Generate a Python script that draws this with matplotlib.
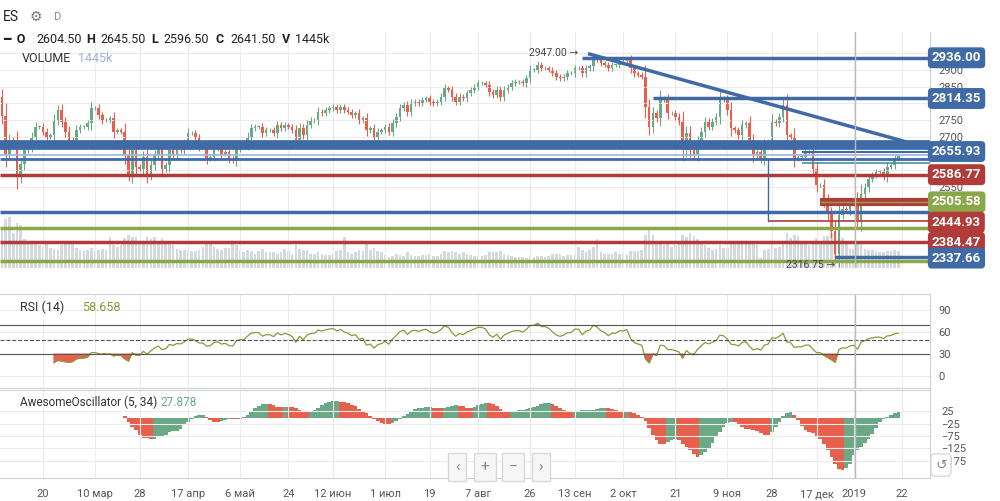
import numpy as np
import pandas as pd
import matplotlib
matplotlib.use('Agg')
from matplotlib import pyplot as plt

plt.rcParams['font.family'] = ['Roboto', 'DejaVu Sans']

# daily closes, ES futures, Feb 2018 - Jan 2019
feb = [2762, 2650, 2690, 2680, 2580, 2620, 2660, 2670, 2700, 2730, 2730, 2715, 2700, 2705, 2750, 2780, 2745, 2715]
mar = [2680, 2690, 2720, 2730, 2730, 2740, 2785, 2785, 2765, 2750, 2750, 2755, 2715, 2720, 2715, 2645, 2590, 2660, 2610, 2605, 2640]
apr = [2585, 2615, 2645, 2665, 2605, 2615, 2660, 2645, 2665, 2660, 2680, 2710, 2710, 2695, 2670, 2670, 2635, 2640, 2665, 2670, 2650]
may = [2655, 2635, 2630, 2665, 2675, 2675, 2700, 2725, 2730, 2730, 2710, 2720, 2720, 2710, 2735, 2725, 2735, 2730, 2720, 2690, 2725, 2705]
jun = [2735, 2748, 2750, 2775, 2770, 2780, 2785, 2790, 2780, 2790, 2780, 2775, 2765, 2770, 2750, 2755, 2720, 2725, 2700, 2715, 2720]
jul = [2730, 2715, 2740, 2760, 2785, 2795, 2775, 2800, 2805, 2800, 2810, 2815, 2805, 2800, 2805, 2820, 2845, 2840, 2820, 2805, 2820]
aug = [2815, 2830, 2840, 2850, 2860, 2860, 2855, 2835, 2825, 2840, 2820, 2840, 2850, 2860, 2865, 2865, 2860, 2875, 2900, 2900, 2915, 2905, 2905]
sep = [2900, 2890, 2880, 2875, 2880, 2890, 2890, 2905, 2905, 2890, 2905, 2910, 2935, 2930, 2920, 2915, 2905, 2915, 2915]
octo = [2925, 2925, 2930, 2905, 2890, 2885, 2880, 2790, 2730, 2770, 2755, 2815, 2810, 2770, 2770, 2760, 2745, 2660, 2710, 2660, 2645, 2685, 2715]
nov = [2745, 2730, 2745, 2760, 2815, 2810, 2780, 2725, 2720, 2705, 2735, 2740, 2690, 2645, 2655, 2635, 2675, 2685, 2745, 2740, 2760]
dec = [2795, 2705, 2700, 2635, 2640, 2640, 2655, 2655, 2605, 2555, 2555, 2510, 2470, 2420, 2350, 2465, 2485, 2480, 2505]
jan = [2510, 2450, 2530, 2550, 2575, 2585, 2595, 2595, 2580, 2610, 2615, 2635, 2641.5]
closes = np.array(feb + mar + apr + may + jun + jul + aug + sep + octo + nov + dec + jan, dtype=float)

# volume, thousands
vol_k = np.array(
    [3200, 4100, 4300, 2900, 3800, 3600, 2400, 2100, 2300, 2000, 1900, 1800, 2000, 1700, 1600, 1500, 1900, 2200] +
    [2300, 2100, 1700, 1500, 1400, 1500, 1700, 1400, 1500, 1600, 1500, 2600, 1900, 1800, 1900, 2500, 2800, 2600, 2600, 2300, 2000] +
    [2600, 2400, 2600, 2000, 2500, 2100, 2000, 1900, 1600, 1500, 1500, 1500, 1400, 1400, 1500, 1800, 2100, 2000, 1800, 1600, 1500] +
    [1700, 1700, 2000, 1900, 1500, 1300, 1500, 1400, 1200, 1400, 1600, 1300, 1300, 1300, 1200, 1300, 1600, 1400, 1200, 1900, 1600, 1500] +
    [1500, 1200, 1200, 1300, 1200, 1100, 1100, 1200, 1400, 1500, 2600, 1300, 1200, 1300, 1500, 1400, 2000, 1500, 1700, 1400, 1300] +
    [1100, 900, 1000, 1200, 1100, 1000, 1300, 1100, 1000, 1000, 1100, 1100, 1200, 1000, 1000, 1200, 1400, 1300, 1400, 1300, 1200] +
    [1300, 1200, 1100, 1000, 1000, 1000, 1100, 1300, 1300, 1300, 1400, 1200, 1100, 1000, 900, 900, 900, 800, 1000, 900, 1000, 1000, 900] +
    [1000, 1200, 1200, 1200, 1000, 1100, 1100, 1200, 1800, 1500, 1300, 1500, 1800, 2400, 1300, 1200, 1200, 1200, 1300] +
    [1200, 1200, 1100, 1400, 1400, 1400, 1500, 2800, 3400, 2800, 2100, 2000, 1900, 2000, 1800, 1900, 2200, 2800, 2600, 2900, 2700, 2400, 2100] +
    [1900, 1700, 1500, 1600, 1900, 1700, 1700, 2000, 2000, 2000, 2200, 2100, 2100, 2300, 1900, 800, 1500, 1600, 2100, 1700, 1800] +
    [2300, 2900, 2500, 2800, 2700, 2200, 2100, 1900, 2100, 2500, 2100, 2700, 2700, 2900, 1800, 2400, 2500, 2200, 1600] +
    [1600, 2000, 2000, 1600, 1500, 1500, 1400, 1300, 1300, 1400, 1400, 1500, 1445])

hols = pd.to_datetime(['2018-02-19', '2018-03-30', '2018-05-28', '2018-07-04', '2018-09-03',
                       '2018-11-22', '2018-12-05', '2018-12-25', '2019-01-01'])
dates = pd.bdate_range('2018-02-02', '2019-01-18', freq='C', holidays=hols)
n = min(len(dates), len(closes), len(vol_k))
closes, vol_k, dates = closes[:n], vol_k[:n], dates[:n]

opens = np.concatenate([[2820.0], closes[:-1]])
body = np.abs(closes - opens)
highs = np.maximum(opens, closes) + 0.3 * body + 6
lows = np.minimum(opens, closes) - 0.3 * body - 6
x = np.arange(n)

tick_dates = ['2018-02-20', '2018-03-10', '2018-03-28', '2018-04-17', '2018-05-06', '2018-05-24',
              '2018-06-12', '2018-07-01', '2018-07-19', '2018-08-07', '2018-08-26', '2018-09-13',
              '2018-10-02', '2018-10-21', '2018-11-09', '2018-11-28', '2018-12-17', '2019-01-02', '2019-01-22']
tick_labels = ['20', '10 мар', '28', '17 апр', '6 май', '24', '12 июн', '1 июл', '19', '7 авг', '26',
               '13 сен', '2 окт', '21', '9 ноя', '28', '17 дек', '2019', '22']
tick_pos = np.searchsorted(dates.values, pd.to_datetime(tick_dates).values)

# horizontal levels: (price, colour, width, start index or None)
BLUE, RED, GRN = '#3f6aa6', '#b03b38', '#8aa84a'
levels = [
    (2936.00, BLUE, 2.5, 156), (2814.35, BLUE, 2.5, 175), (2674, BLUE, 7, None),
    (2646, '#9bb7e0', 1.2, None), (2634, BLUE, 2, None), (2656, BLUE, 1.5, 215),
    (2622, '#4a8fa8', 1.2, 215), (2586.77, RED, 2.5, None),
    (2512, RED, 3, 220), (2500, RED, 3, 220), (2505.58, GRN, 1, 220),
    (2475, BLUE, 2.5, None), (2449, RED, 1.2, 206), (2428, GRN, 2.5, None),
    (2384.47, RED, 2.5, None), (2340, BLUE, 2.5, 224), (2330, GRN, 2.5, None),
]
labels = [(2936.00, BLUE), (2814.35, BLUE), (2655.93, BLUE), (2586.77, RED), (2505.58, GRN),
          (2444.93, RED), (2384.47, RED), (2337.66, BLUE)]

W, H = 1000, 501
fig = plt.figure(figsize=(10, 5.01), dpi=100)


def ax_px(x0, y0, x1, y1):
    return fig.add_axes([x0 / W, 1 - y1 / H, (x1 - x0) / W, (y1 - y0) / H])


XL = (-0.55, 249.5)
UP, DN = '#6aa886', '#e8604c'
grid_c = '#ececec'
CROSS = 229.3

# ---- main price panel
ax = ax_px(0, 32, 930, 268)
axv = ax.twinx()
axv.bar(x, vol_k, width=0.7, color='#d3d9df', zorder=0)
axv.set_ylim(0, vol_k.max() * 4.6)
axv.axis('off')
ax.set_zorder(axv.get_zorder() + 1)
ax.patch.set_visible(False)

cols = np.where(closes >= opens, UP, DN)
ax.vlines(x, lows, highs, colors=cols, lw=0.8)
ax.bar(x, np.maximum(body, 1.5), bottom=np.minimum(opens, closes), width=0.7, color=cols)
for p, c, lw, start in levels:
    x0 = XL[0] if start is None else start
    ax.plot([x0, XL[1]], [p, p], color=c, lw=lw, solid_capstyle='butt')
ax.plot([158, 249.5], [2947, 2665], color=BLUE, lw=2.5)
ax.plot([206, 206, 245], [2449, 2634, 2634], color=BLUE, lw=1)
ax.text(155, 2950, '2947.00 →', fontsize=7.5, color='#444', ha='right', va='center')
ax.text(224, 2318, '2316.75 →', fontsize=7.5, color='#444', ha='right', va='center')
ax.set_xlim(XL)
ax.set_ylim(2308, 3013)
ax.set_xticks(tick_pos)
ax.set_yticks([2550, 2600, 2650, 2700, 2750, 2800, 2850, 2900, 2950])
ax.grid(color=grid_c, lw=0.8)
ax.tick_params(length=0, labelbottom=False, labelleft=False, labelright=True, labelsize=8,
               labelcolor='#555', pad=6)
for sp in ax.spines.values():
    sp.set_visible(False)
ax.spines['right'].set_visible(True)
ax.spines['right'].set_color('#c9d1da')
for p, c in labels:
    ax.text(1.002, p, f'{p:.2f}', transform=ax.get_yaxis_transform(), fontsize=9.5,
            color='white', fontweight='bold', va='center', ha='left', zorder=10, clip_on=False,
            bbox=dict(boxstyle='round,pad=0.3', fc=c, ec='none'))

# header
fig.text(0.003, 1 - 17 / H, 'ES', fontsize=10, color='#222', va='center')
fig.text(0.03, 1 - 17 / H, '⚙', fontsize=10, color='#777', va='center', family='DejaVu Sans')
fig.text(0.053, 1 - 17 / H, 'D', fontsize=8, color='#888', va='center')
fig.text(0.003, 1 - 39 / H, '━  O', fontsize=9, color='#222', va='center', fontweight='bold')
hdr = [('2604.50', 0.036), ('H', 0.086), ('2645.50', 0.1), ('L', 0.151), ('2596.50', 0.163),
       ('C', 0.216), ('2641.50', 0.23), ('V', 0.282), ('1445k', 0.295)]
for s, xx in hdr:
    fig.text(xx, 1 - 39 / H, s, fontsize=9, color='#222', va='center',
             fontweight='bold' if len(s) == 1 else 'normal')
fig.text(0.022, 1 - 58 / H, 'VOLUME', fontsize=9, color='#333', va='center')
fig.text(0.078, 1 - 58 / H, '1445k', fontsize=9, color='#9fb4cc', va='center')

# ---- RSI
s = pd.Series(closes)
d = s.diff()
g = d.clip(lower=0).ewm(alpha=1 / 14, adjust=False).mean()
l_ = (-d.clip(upper=0)).ewm(alpha=1 / 14, adjust=False).mean()
rsi = (100 - 100 / (1 + g / l_)).values
rsi[:14] = np.nan
ar = ax_px(0, 294, 930, 388)
ar.plot(x, rsi, color='#8a9a3a', lw=0.9)
ar.fill_between(x, rsi, 70, where=rsi > 70, color='#6cc26c', interpolate=True)
ar.fill_between(x, rsi, 30, where=rsi < 30, color='#e8604c', interpolate=True)
ar.axhline(70, color='#555', lw=0.8)
ar.axhline(30, color='#555', lw=0.8)
ar.axhline(50, color='#555', lw=0.8, ls='--')
ar.set_xlim(XL)
ar.set_ylim(-16, 112)
ar.set_yticks([0, 30, 60, 90])
ar.set_xticks(tick_pos)
ar.grid(color=grid_c, lw=0.8)
ar.tick_params(length=0, labelbottom=False, labelleft=False, labelright=True, labelsize=8,
               labelcolor='#555', pad=6)
for sp in ar.spines.values():
    sp.set_color('#c9d1da')
ar.spines['left'].set_visible(False)
ar.text(0.022, 0.86, 'RSI (14)', transform=ar.transAxes, fontsize=9, color='#333', va='center')
ar.text(0.088, 0.86, f'{rsi[-1]:.3f}', transform=ar.transAxes, fontsize=9, color='#8a9a3a', va='center')

# ---- Awesome oscillator
med = (highs + lows) / 2
ao = (pd.Series(med).rolling(5).mean() - pd.Series(med).rolling(34).mean()).values
ao_col = np.where(np.diff(np.concatenate([[0], ao])) >= 0, '#6aa886', '#e8604c')
aa = ax_px(0, 390, 930, 478)
aa.bar(x, np.nan_to_num(ao), width=1.0, color=ao_col)
aa.set_xlim(XL)
aa.set_ylim(-246, 112)
aa.set_yticks([25, -25, -75, -125, -175])
aa.set_xticks(tick_pos)
aa.set_xticklabels(tick_labels)
aa.grid(color=grid_c, lw=0.8)
aa.tick_params(length=0, labelleft=False, labelright=True, labelsize=8, labelcolor='#555', pad=8)
for sp in aa.spines.values():
    sp.set_color('#c9d1da')
aa.spines['left'].set_visible(False)
aa.text(0.022, 0.86, 'AwesomeOscillator (5, 34)', transform=aa.transAxes, fontsize=8.5, color='#333', va='center')
aa.text(0.172, 0.86, f'{ao[-1]:.3f}', transform=aa.transAxes, fontsize=8.5, color='#6aa886', va='center')

for a in (ax, ar, aa):
    a.axvline(CROSS, color='#bbbbbb', lw=1)

# navigation buttons
for lbl, px in [('‹', 457), ('+', 485), ('−', 513), ('›', 541)]:
    fig.text(px / W, 1 - 467 / H, lbl, fontsize=11, color='#888', ha='center', va='center',
             bbox=dict(boxstyle='square,pad=0.45', fc='#f6f6f6', ec='#d8d8d8'))
fig.text(941 / W, 1 - 465 / H, '↺', fontsize=10, color='#888', ha='center', va='center',
         family='DejaVu Sans', bbox=dict(boxstyle='round,pad=0.3', fc='white', ec='#d8d8d8'))

fig.savefig('out.png', dpi=100)
